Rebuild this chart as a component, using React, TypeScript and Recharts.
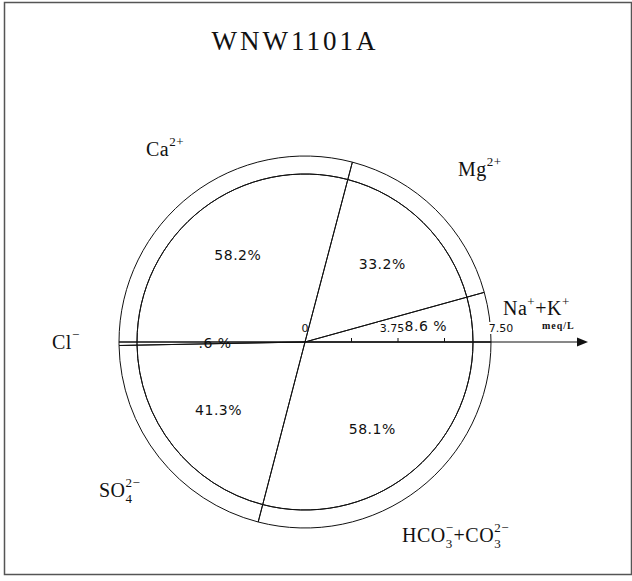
import { PieChart, Pie, PolarRadiusAxis } from "recharts";

// ion groups, cations (top half) then anions (bottom half), counter-clockwise from 3 o'clock
const ions = ["Na+K", "Mg", "Ca", "Cl", "SO4", "HCO3+CO3"];
const percents = [8.6, 33.2, 58.2, 0.6, 41.3, 58.1];

// radial axis (meq/L)
const axisTicks = [0, 1.875, 3.75, 5.625, 7.5];
const axisTickLabels = ["0", "", "3.75", "", "7.50"];
const axisMax = 7.5;

const title = "WNW1101A";

const W = 632;
const H = 581;
const CX = 305;
const CY = 342;
const R_OUT = 186;
const R_IN = 168;
const RADIAN = Math.PI / 180;

const serif = "'Liberation Serif', 'DejaVu Serif', serif";
const sans = "'DejaVu Sans', 'Liberation Sans', sans-serif";

const data = ions.map((name, i) => ({ name, value: percents[i] }));

const fmtPct = (v: number) => {
  if (v < 1) return `${v.toFixed(1).replace(/^0/, "")} %`;
  if (v < 10) return `${v.toFixed(1)} %`;
  return `${v.toFixed(1)}%`;
};

const renderPct = (props: any) => {
  const { cx, cy, midAngle, value } = props;
  // thin slices: label sits on the boundary line
  const r = value < 1 ? 90 : value < 10 ? 122 : 110;
  const x = cx + r * Math.cos(-midAngle * RADIAN);
  const y = cy + r * Math.sin(-midAngle * RADIAN);
  return (
    <text
      x={x}
      y={y}
      textAnchor="middle"
      dominantBaseline="central"
      fontFamily={sans}
      fontSize={14}
      letterSpacing={0.5}
      fill="#111"
    >
      {fmtPct(value)}
    </text>
  );
};

const labelDx = [0, 0, -6, 0, 10];

const renderTick = (props: any) => {
  const { x, y, payload } = props;
  const i = axisTicks.indexOf(payload.value);
  const label = axisTickLabels[i] ?? "";
  const tx = x + labelDx[i];
  const w = label.length * 6.5;
  return (
    <g>
      {label && i > 0 && (
        <rect x={tx - w / 2 - 1} y={y - 20} width={w + 1} height={12} fill="#fff" />
      )}
      {payload.value > 0 && payload.value < axisMax && (
        <line x1={x} y1={y} x2={x} y2={y - 4} stroke="#111" strokeWidth={1} />
      )}
      {label && (
        <text
          x={tx}
          y={y - 10}
          textAnchor="middle"
          fontFamily={sans}
          fontSize={11}
          fill="#111"
        >
          {label}
        </text>
      )}
    </g>
  );
};

export default function App() {
  const ionStyle = { fontFamily: serif, fontSize: 20, letterSpacing: 0.5, fill: "#111" } as const;
  return (
    <div
      style={{
        position: "absolute",
        left: 0,
        top: 0,
        width: W,
        height: H,
        background: "#fff",
      }}
    >
      <PieChart
        width={W}
        height={H}
        cx={CX}
        cy={CY}
        innerRadius={0}
        outerRadius={R_OUT}
        margin={{ top: 0, right: 0, bottom: 0, left: 0 }}
      >
        <Pie
          data={data}
          dataKey="value"
          nameKey="name"
          cx={CX}
          cy={CY}
          startAngle={0}
          endAngle={360}
          innerRadius={0}
          outerRadius={R_IN}
          fill="none"
          stroke="#111"
          strokeWidth={1}
          isAnimationActive={false}
          label={renderPct}
          labelLine={false}
        />
        <Pie
          data={data}
          dataKey="value"
          nameKey="name"
          cx={CX}
          cy={CY}
          startAngle={0}
          endAngle={360}
          innerRadius={R_IN}
          outerRadius={R_OUT}
          fill="none"
          stroke="#111"
          strokeWidth={1}
          isAnimationActive={false}
          label={false}
          labelLine={false}
        />
        <PolarRadiusAxis
          angle={0}
          type="number"
          domain={[0, axisMax]}
          allowDataOverflow={true}
          tickCount={0}
          ticks={axisTicks}
          tick={renderTick}
          axisLine={{ stroke: "#111" }}
          tickLine={false}
        />
      </PieChart>
      <svg
        width={W}
        height={H}
        style={{ position: "absolute", left: 0, top: 0, pointerEvents: "none" }}
      >
        <rect x={4.5} y={2.5} width={627} height={572} fill="none" stroke="#555" strokeWidth={1.5} />
        <line x1={CX + R_OUT} y1={CY} x2={580} y2={CY} stroke="#111" strokeWidth={1} />
        <polygon points={`577,${CY - 4.5} 588,${CY} 577,${CY + 4.5}`} fill="#111" />
        <text x={295} y={50} textAnchor="middle" fontFamily={serif} fontSize={27} letterSpacing={3} fill="#111">
          {title}
        </text>
        <text x={146} y={156} {...ionStyle}>
          Ca<tspan y={146} fontSize={13}>2+</tspan>
        </text>
        <text x={458} y={176} {...ionStyle}>
          Mg<tspan y={166} fontSize={13}>2+</tspan>
        </text>
        <text x={503} y={315} {...ionStyle}>
          Na<tspan y={306} fontSize={13}>+</tspan>
          <tspan y={315}>+K</tspan>
          <tspan y={306} fontSize={13}>+</tspan>
        </text>
        <text x={542} y={329} fontFamily={serif} fontWeight="bold" fontSize={10} letterSpacing={1} fill="#111">
          meq/L
        </text>
        <text x={52} y={349} {...ionStyle}>
          Cl<tspan y={339} fontSize={13}>−</tspan>
        </text>
        <text x={99} y={497} {...ionStyle}>
          SO<tspan y={503} fontSize={13}>4</tspan>
          <tspan dx={-7} y={487} fontSize={13}>2−</tspan>
        </text>
        <text x={402} y={542} {...ionStyle}>
          HCO<tspan y={548} fontSize={13}>3</tspan>
          <tspan dx={-7} y={532} fontSize={13}>−</tspan>
          <tspan y={542}>+CO</tspan>
          <tspan y={548} fontSize={13}>3</tspan>
          <tspan dx={-7} y={532} fontSize={13}>2−</tspan>
        </text>
      </svg>
    </div>
  );
}
